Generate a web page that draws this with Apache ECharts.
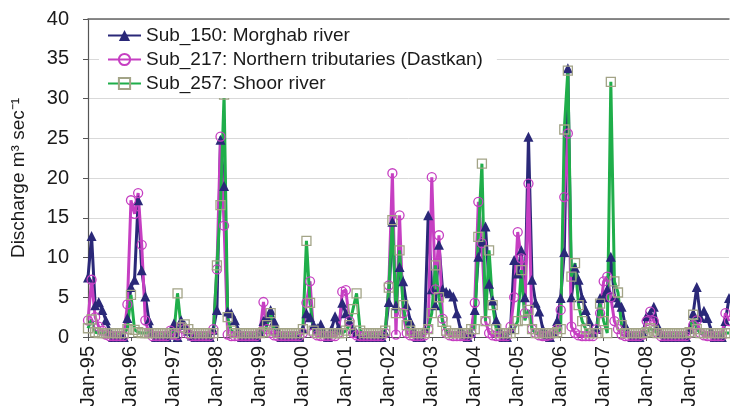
<!DOCTYPE html>
<html>
<head>
<meta charset="utf-8">
<script src="https://cdn.jsdelivr.net/npm/echarts@6/dist/echarts.min.js"></script>
<style>
html,body{margin:0;padding:0;background:#fff;}
#chart{width:730px;height:406px;}
</style>
</head>
<body>
<div id="chart"></div>
<script>
// Month names and year suffixes used to build the monthly category labels
var monthNames = ['Jan','Feb','Mar','Apr','May','Jun','Jul','Aug','Sep','Oct','Nov','Dec'];
var yearLabels = ['95','96','97','98','99','00','01','02','03','04','05','06','07','08','09'];

// Sub_150: Morghab river (one row per year, Jan..Dec)
var sub150 = [
  7.5, 12.7, 4.0, 4.4, 3.4, 2.1, 0.8, 0, 0, 0, 0, 2.4,
  6.3, 7.2, 17.2, 8.4, 5.1, 2.1, 0.5, 0, 0, 0, 0, 0.3,
  1.7, 0, 2.1, 1.5, 0.8, 0.2, 0, 0, 0, 0, 0, 0.9,
  3.4, 24.8, 19.0, 3.2, 3.0, 2.1, 0.8, 0, 0, 0, 0, 0,
  0.5, 2.0, 2.5, 3.4, 2.0, 0.8, 0, 0, 0, 0, 0, 0,
  1.0, 3.0, 2.5, 1.5, 1.1, 1.6, 0.5, 0, 1.0, 2.6, 1.2, 4.3,
  3.0, 2.0, 1.0, 0.5, 0, 0, 0, 0, 0, 0, 0, 0.5,
  4.4, 14.5, 4.0, 8.8, 7.0, 4.0, 2.0, 0.8, 0, 0, 1.0, 15.3,
  6.0, 4.0, 11.6, 6.0, 5.7, 5.5, 5.1, 3.0, 1.0, 0.3, 0, 0.5,
  3.4, 10.1, 12.0, 13.9, 6.7, 4.6, 2.1, 0.8, 0, 0, 1.0, 9.7,
  8.0, 10.9, 5.0, 25.2, 7.2, 4.3, 3.2, 1.0, 0.3, 0, 0.5, 2.0,
  4.9, 10.7, 33.8, 5.0, 8.7, 7.2, 4.9, 3.4, 2.0, 0.5, 1.0, 4.9,
  5.0, 6.0, 10.1, 5.0, 4.3, 3.8, 1.5, 0.5, 0, 0, 0, 0.5,
  2.6, 3.0, 3.8, 1.5, 0.5, 0, 0, 0, 0, 0, 0, 0,
  1.0, 3.0, 6.3, 2.5, 3.3, 2.4, 0.8, 0, 0, 0, 2.0, 4.9
];

// Sub_217: Northern tributaries (Dastkan)
var sub217 = [
  2.1, 7.2, 2.5, 1.3, 0.8, 0.3, 0.1, 0.1, 0.1, 0.1, 0.1, 4.1,
  17.2, 15.5, 18.1, 11.6, 2.1, 0.5, 0.1, 0.1, 0.1, 0.1, 0.1, 0.8,
  0.3, 0.2, 1.2, 1.0, 0.4, 0.1, 0.1, 0.1, 0.1, 0.1, 0.1, 1.0,
  8.5, 25.2, 14.0, 0.3, 0.1, 0.1, 0.1, 0.1, 0.1, 0.1, 0.1, 0.1,
  0.5, 4.4, 1.0, 0.5, 0.2, 0.1, 0.1, 0.1, 0.1, 0.1, 0.1, 0.1,
  0.5, 4.3, 7.0, 0.5, 0.2, 0.1, 0.1, 0.1, 0.1, 0.1, 0.5, 5.7,
  5.9, 2.0, 0.5, 0.2, 0.1, 0.1, 0.1, 0.1, 0.1, 0.1, 0.1, 0.5,
  6.5, 20.6, 0.3, 15.3, 3.0, 0.5, 0.2, 0.1, 0.1, 0.1, 0.2, 1.0,
  20.1, 6.0, 12.8, 2.3, 0.5, 0.2, 0.1, 0.1, 0.1, 0.1, 0.1, 0.5,
  4.3, 17.0, 11.8, 2.0, 0.5, 0.2, 0.1, 0.1, 0.1, 0.1, 1.3, 5.0,
  13.2, 9.9, 3.0, 19.3, 1.0, 0.5, 0.2, 0.1, 0.1, 0.2, 0.5, 1.0,
  3.4, 17.6, 25.6, 1.3, 0.5, 0.2, 0.1, 0.1, 0.1, 0.1, 1.0, 3.0,
  7.0, 7.6, 5.0, 2.0, 1.0, 0.3, 0.1, 0.1, 0.1, 0.1, 0.1, 0.3,
  2.0, 3.2, 2.0, 0.5, 0.1, 0.1, 0.1, 0.1, 0.1, 0.1, 0.1, 0.1,
  0.5, 1.5, 2.1, 0.5, 0.2, 0.1, 0.1, 0.1, 0.1, 0.1, 3.0, 2.0
];

// Sub_257: Shoor river
var sub257 = [
  1.1, 2.2, 0.6, 0.5, 0.5, 0.5, 0.5, 0.5, 0.5, 0.5, 0.5, 1.0,
  5.3, 0.9, 0.6, 0.5, 0.5, 0.5, 0.5, 0.5, 0.5, 0.5, 0.5, 0.5,
  0.5, 5.5, 1.2, 1.6, 1.0, 0.5, 0.5, 0.5, 0.5, 0.5, 0.5, 0.5,
  9.0, 16.6, 30.5, 2.5, 0.8, 0.5, 0.5, 0.5, 0.5, 0.5, 0.5, 0.5,
  0.5, 0.6, 1.5, 3.0, 0.8, 0.5, 0.5, 0.5, 0.5, 0.5, 0.5, 0.5,
  1.0, 12.1, 4.3, 0.8, 0.5, 0.5, 0.5, 0.5, 0.5, 0.5, 0.5, 0.5,
  0.8, 1.5, 3.5, 5.5, 0.8, 0.5, 0.5, 0.5, 0.5, 0.5, 0.5, 0.8,
  6.2, 14.7, 3.0, 10.9, 4.0, 1.5, 0.8, 0.5, 0.5, 0.5, 0.5, 1.0,
  3.0, 9.0, 5.0, 1.9, 0.8, 0.5, 0.5, 0.5, 0.5, 0.5, 0.5, 1.0,
  1.0, 12.6, 21.8, 2.0, 10.9, 4.0, 1.0, 0.5, 0.5, 0.5, 0.5, 1.0,
  2.0, 8.4, 2.1, 3.4, 1.0, 0.5, 0.5, 0.5, 0.5, 0.5, 0.5, 0.6,
  1.0, 26.1, 33.5, 7.6, 9.3, 4.0, 2.0, 1.0, 0.5, 0.5, 0.5, 4.2,
  2.0, 0.5, 32.1, 7.0, 5.6, 1.5, 0.5, 0.5, 0.5, 0.5, 0.5, 0.5,
  0.6, 1.1, 0.8, 0.5, 0.5, 0.5, 0.5, 0.5, 0.5, 0.5, 0.5, 0.5,
  0.6, 2.8, 1.0, 0.5, 0.5, 0.5, 0.5, 0.5, 0.5, 0.5, 0.5, 0.5
];

var seriesNames = ['Sub_150: Morghab river', 'Sub_217: Northern tributaries (Dastkan)', 'Sub_257: Shoor river'];
var yTicks = {min: 0, max: 40, step: 5};

var categories = [];
yearLabels.forEach(function (y) {
  monthNames.forEach(function (m) { categories.push(m + '-' + y); });
});

var FONT = "'Liberation Sans', Arial, sans-serif";
var TXT = '#1a1a1a';
var BLUE = '#2a2878', MAG = '#c63fc2', GREEN = '#1fae4a', SQ = '#a3a487';

var chart = echarts.init(document.getElementById('chart'), null, {renderer: 'canvas'});
chart.setOption({
  animation: false,
  backgroundColor: '#fff',
  textStyle: {fontFamily: FONT},
  grid: {left: 88, right: 1, top: 19, bottom: 69, outerBoundsMode: 'none', containLabel: false},
  legend: {
    orient: 'vertical', left: 99, top: 21,
    itemWidth: 33, itemHeight: 14, itemGap: 5,
    padding: [5, 14, 5, 8],
    backgroundColor: '#fff',
    textStyle: {fontSize: 19, color: TXT, fontFamily: FONT},
    data: seriesNames
  },
  xAxis: [{
    type: 'category', data: categories, boundaryGap: false,
    axisLine: {lineStyle: {color: '#555', width: 1.2}},
    axisTick: {show: true, interval: 11, length: 4, lineStyle: {color: '#555'}},
    axisLabel: {interval: 11, rotate: 90, fontSize: 20, color: TXT, margin: 9, fontFamily: FONT},
    splitLine: {show: false}
  }, {
    type: 'category', data: categories, boundaryGap: false, position: 'top',
    axisLine: {show: true, lineStyle: {color: '#666', width: 1.5}},
    axisTick: {show: false}, axisLabel: {show: false}, splitLine: {show: false}
  }],
  yAxis: {
    type: 'value', min: yTicks.min, max: yTicks.max, interval: yTicks.step,
    axisLine: {show: true, lineStyle: {color: '#555', width: 1.2}},
    axisTick: {show: true, length: 5, lineStyle: {color: '#555'}},
    axisLabel: {fontSize: 20, color: TXT, margin: 19, fontFamily: FONT},
    splitLine: {show: true, lineStyle: {color: '#d9d9d9', width: 1}},
    name: 'Discharge m³ sec⁻¹', nameLocation: 'middle', nameGap: 60,
    nameTextStyle: {fontSize: 19, color: TXT, fontFamily: FONT}
  },
  series: [{
    name: seriesNames[0], type: 'line', data: sub150,
    symbol: 'triangle', symbolSize: 10, showAllSymbol: true,
    lineStyle: {color: BLUE, width: 3},
    itemStyle: {color: BLUE}
  }, {
    name: seriesNames[1], type: 'line', data: sub217,
    symbol: 'circle', symbolSize: 9, showAllSymbol: true,
    lineStyle: {color: MAG, width: 3},
    itemStyle: {color: 'rgba(255,255,255,0)', borderColor: MAG, borderWidth: 1.3}
  }, {
    name: seriesNames[2], type: 'line', data: sub257,
    symbol: 'rect', symbolSize: 9, showAllSymbol: true,
    lineStyle: {color: GREEN, width: 3},
    itemStyle: {color: 'rgba(255,255,255,0)', borderColor: SQ, borderWidth: 1.3}
  }]
});
</script>
</body>
</html>
